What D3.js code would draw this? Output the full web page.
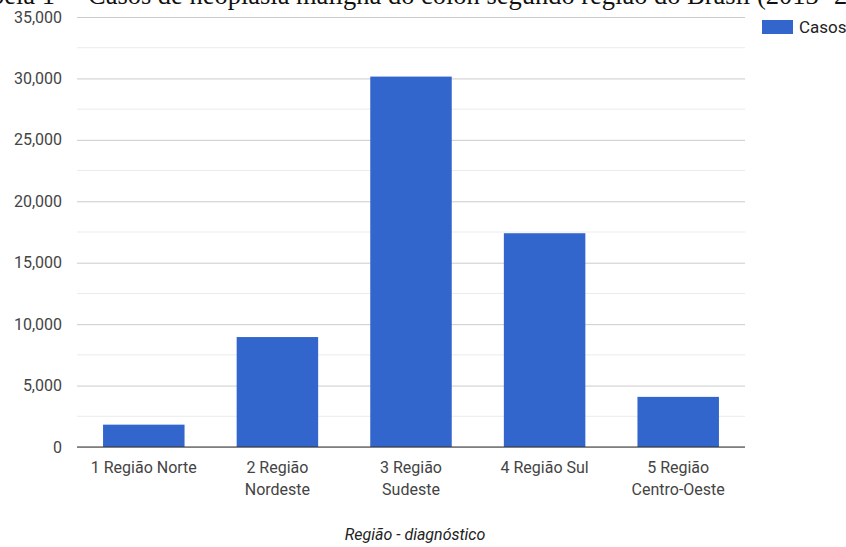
<!DOCTYPE html>
<html><head><meta charset="utf-8">
<script src="https://cdn.jsdelivr.net/npm/d3@7"></script>
<style>body{margin:0;background:#fff;}svg{display:block;}</style>
</head><body>
<svg id="c" width="846" height="547"></svg>
<script>
const categories = ["1 Região Norte", "2 Região Nordeste", "3 Região Sudeste", "4 Região Sul", "5 Região Centro-Oeste"];
const categoryLines = [["1 Região Norte"], ["2 Região", "Nordeste"], ["3 Região", "Sudeste"], ["4 Região Sul"], ["5 Região", "Centro-Oeste"]];
const casos = [1820, 8950, 30150, 17400, 4080];
const yTicks = [0, 5000, 10000, 15000, 20000, 25000, 30000, 35000];
const minorTicks = [2500, 7500, 12500, 17500, 22500, 27500, 32500];
const seriesName = "Casos";
const xTitle = "Região - diagnóstico";
const titleText = "Tabela 1 –  Casos de neoplasia maligna do colon segundo região do Brasil (2013- 2017)";

const svg = d3.select("#c");
const L = 77, R = 745, T = 17, B = 447;
const x = d3.scaleBand().domain(categories).range([L, R]).paddingInner(0.39).paddingOuter(0.195);
const y = d3.scaleLinear().domain([0, 35000]).range([B, T]);
const font = "Roboto, 'Noto Sans', Arial, sans-serif";
const fs = 16;

// minor gridlines
svg.append("g").selectAll("line").data(minorTicks).join("line")
  .attr("x1", L).attr("x2", R).attr("y1", d => y(d)).attr("y2", d => y(d))
  .attr("stroke", "#ebebeb").attr("stroke-width", 1);
// major gridlines via axis
const yAxis = d3.axisLeft(y).tickValues(yTicks).tickFormat(d3.format(",")).tickSize(-(R - L)).tickPadding(15);
const gy = svg.append("g").attr("transform", `translate(${L},0)`).call(yAxis);
gy.select(".domain").remove();
gy.selectAll(".tick line").attr("stroke", "#cccccc");
gy.selectAll(".tick text").attr("font-family", font).attr("font-size", fs).attr("fill", "#444");

// bars
svg.append("g").selectAll("rect").data(casos).join("rect")
  .attr("x", (d, i) => x(categories[i])).attr("width", x.bandwidth())
  .attr("y", d => y(d)).attr("height", d => y(0) - y(d))
  .attr("fill", "#3366cc");

// baseline
svg.append("line").attr("x1", L).attr("x2", R).attr("y1", y(0)).attr("y2", y(0))
  .attr("stroke", "#333").attr("stroke-width", 1.2);

// x labels
const gx = svg.append("g");
categoryLines.forEach((lines, i) => {
  const cx = x(categories[i]) + x.bandwidth() / 2;
  const t = gx.append("text").attr("x", cx).attr("y", 473)
    .attr("text-anchor", "middle").attr("font-family", font).attr("font-size", fs).attr("fill", "#444");
  lines.forEach((ln, j) => t.append("tspan").attr("x", cx).attr("dy", j ? 22 : 0).text(ln));
});

// x title
svg.append("text").attr("x", 415).attr("y", 540).attr("text-anchor", "middle")
  .attr("font-family", font).attr("font-size", fs).attr("font-style", "italic").attr("fill", "#222").text(xTitle);

// legend
svg.append("rect").attr("x", 762).attr("y", 20).attr("width", 31).attr("height", 14).attr("fill", "#3366cc");
svg.append("text").attr("x", 799).attr("y", 33).attr("font-family", font).attr("font-size", 17).attr("fill", "#222").text(seriesName);

// title (clipped at top)
const tt = svg.append("text").attr("y", 4).attr("font-family", "'Liberation Serif', 'Times New Roman', serif")
  .attr("font-size", 20).attr("fill", "#111").attr("xml:space", "preserve").style("white-space", "pre").text(titleText);
const node = tt.node();
const iC = titleText.indexOf("Casos"), iP = titleText.indexOf("(");
const span = node.getSubStringLength(iC, iP - iC);
const size = 20 * (757 - 88) / span;
tt.attr("font-size", size);
const preW = node.getSubStringLength(0, iC);
tt.attr("x", 88 - preW);
</script>
</body></html>
